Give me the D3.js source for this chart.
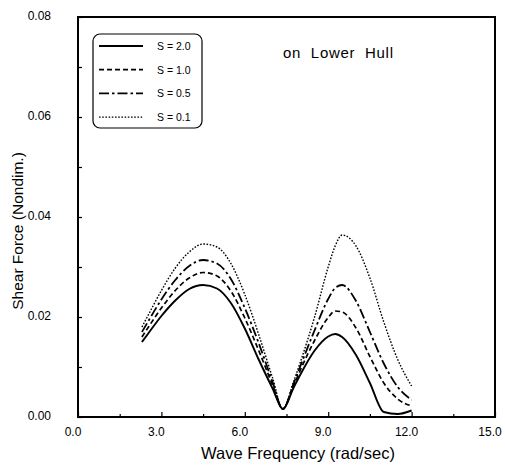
<!DOCTYPE html>
<html><head><meta charset="utf-8">
<script src="https://cdn.jsdelivr.net/npm/d3@7"></script>
<style>
body{margin:0;background:#fff;}
svg{display:block;}
.tick-label{font-family:"Liberation Sans Narrow","Arial Narrow","Liberation Sans",Arial,sans-serif;font-size:12px;fill:#000;}
</style></head>
<body>
<svg id="chart" width="505" height="467"></svg>
<script>
// ---- data ----
const frequency = [2.3, 2.5, 3.0, 3.5, 4.0, 4.5, 5.0, 5.5, 6.0, 6.5, 7.0, 7.37, 7.75, 8.0, 8.5, 9.0, 9.25, 9.5, 10.0, 10.5, 11.0, 11.5, 12.0];
const s20 = [0.0150, 0.0165, 0.0202, 0.0233, 0.0256, 0.0264, 0.0257, 0.0228, 0.0177, 0.0115, 0.0057, 0.0016, 0.0058, 0.0085, 0.0132, 0.0161, 0.0166, 0.0160, 0.0124, 0.0068, 0.0010, 0.0006, 0.0013];
const s10 = [0.0160, 0.0177, 0.0218, 0.0253, 0.0278, 0.0289, 0.0282, 0.0252, 0.0198, 0.0133, 0.0064, 0.0016, 0.0062, 0.0094, 0.0152, 0.0199, 0.0212, 0.0210, 0.0178, 0.0121, 0.0068, 0.0036, 0.0022];
const s05 = [0.0170, 0.0189, 0.0235, 0.0274, 0.0302, 0.0314, 0.0307, 0.0276, 0.0218, 0.0148, 0.0070, 0.0016, 0.0066, 0.0102, 0.0172, 0.0236, 0.0258, 0.0264, 0.0232, 0.0170, 0.0107, 0.0060, 0.0034];
const s01 = [0.0180, 0.0201, 0.0253, 0.0298, 0.0330, 0.0346, 0.0340, 0.0307, 0.0245, 0.0165, 0.0078, 0.0016, 0.0070, 0.0110, 0.0198, 0.0300, 0.0342, 0.0364, 0.0342, 0.0278, 0.0190, 0.0115, 0.0062];
const seriesNames = ["S = 2.0", "S = 1.0", "S = 0.5", "S = 0.1"];
const xTicks = [0, 3, 6, 9, 12, 15];
const xTickLabels = ["0.0", "3.0", "6.0", "9.0", "12.0", "15.0"];
const yTicks = [0, 0.02, 0.04, 0.06, 0.08];
const yTickLabels = ["0.00", "0.02", "0.04", "0.06", "0.08"];
const annotation = "on  Lower  Hull";
const xTitle = "Wave Frequency (rad/sec)";
const yTitle = "Shear Force (Nondim.)";

// ---- layout ----
const svg = d3.select("#chart");
const L = 78, R = 495, T = 17, B = 417;
const x = d3.scaleLinear().domain([0, 15]).range([L, R]);
const y = d3.scaleLinear().domain([0, 0.08]).range([B, T]);

const dashes = [null, "5,3", "10,3,2.5,3", "1.6,1.6"];
const widths = [1.9, 1.7, 1.8, 1.4];
const allSeries = [s20, s10, s05, s01];
const sans = "Liberation Sans, Arial, sans-serif";

// axes with inward ticks
const gx = svg.append("g").attr("transform", `translate(0,${B})`)
  .call(d3.axisBottom(x).tickValues(d3.range(0, 15.01, 1.5)).tickSize(-4).tickFormat(""));
gx.selectAll(".tick line").attr("stroke-width", 1.2)
  .attr("y2", (d) => (Math.abs(d % 3) < 1e-9 ? -5 : -3));
gx.select(".domain").remove();
const gy = svg.append("g").attr("transform", `translate(${L},0)`)
  .call(d3.axisLeft(y).tickValues(d3.range(0, 0.0801, 0.01)).tickSize(-4).tickFormat(""));
gy.selectAll(".tick line").attr("stroke-width", 1.2);
gy.select(".domain").remove();

// tick labels
svg.selectAll(".xl").data(xTicks).enter().append("text")
  .attr("class", "tick-label").attr("x", (d) => x(d) - 5).attr("y", B + 19)
  .attr("text-anchor", "middle").text((d, i) => xTickLabels[i]);
svg.selectAll(".yl").data(yTicks).enter().append("text")
  .attr("class", "tick-label").attr("x", 51).attr("y", (d) => y(d) + 3)
  .attr("text-anchor", "end").text((d, i) => yTickLabels[i]);

// frame
svg.append("rect").attr("x", L).attr("y", T).attr("width", R - L).attr("height", B - T)
  .attr("fill", "none").attr("stroke", "#000").attr("stroke-width", 2);

// curves
const line = d3.line().x((d) => x(d[0])).y((d) => y(d[1])).curve(d3.curveMonotoneX);
allSeries.forEach((vals, i) => {
  svg.append("path").datum(frequency.map((f, j) => [f, vals[j]]))
    .attr("d", line).attr("fill", "none").attr("stroke", "#000")
    .attr("stroke-width", widths[i])
    .attr("stroke-dasharray", dashes[i]);
});

// legend
const lg = svg.append("g");
lg.append("rect").attr("x", 93).attr("y", 34).attr("width", 109).attr("height", 94)
  .attr("rx", 7).attr("fill", "#fff").attr("stroke", "#000").attr("stroke-width", 1.2);
seriesNames.forEach((name, i) => {
  const yy = 46 + i * 23.7;
  lg.append("line").attr("x1", 99).attr("x2", 143).attr("y1", yy).attr("y2", yy)
    .attr("stroke", "#000").attr("stroke-width", widths[i])
    .attr("stroke-dasharray", dashes[i]);
  lg.append("text").attr("x", 157).attr("y", yy + 4)
    .style("font-family", sans).style("font-size", "10.5px")
    .text(name);
});

// annotation
svg.append("text").attr("x", 283).attr("y", 58)
  .attr("textLength", 110).attr("lengthAdjust", "spacing")
  .style("font-family", sans).style("font-size", "15px")
  .style("white-space", "pre").attr("xml:space", "preserve").text(annotation);

// axis titles
svg.append("text").attr("x", 298).attr("y", 459).attr("text-anchor", "middle")
  .style("font-family", sans).style("font-size", "16.5px")
  .text(xTitle);
svg.append("text").attr("transform", `translate(23,231) rotate(-90)`)
  .attr("text-anchor", "middle")
  .style("font-family", sans).style("font-size", "15.5px")
  .text(yTitle);
</script>
</body></html>
